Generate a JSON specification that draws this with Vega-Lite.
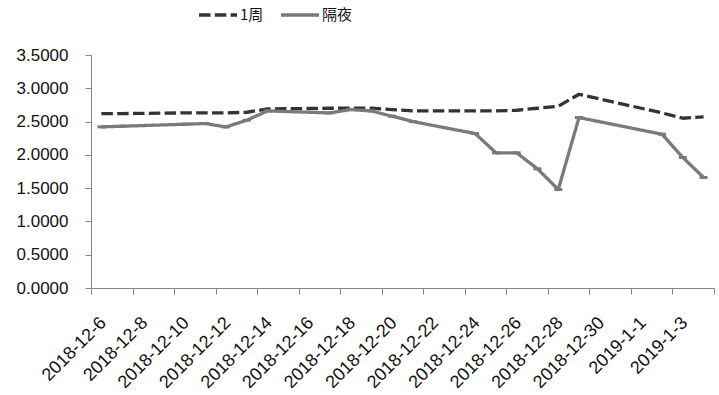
{
  "$schema": "https://vega.github.io/schema/vega-lite/v6.json",
  "width": 623,
  "height": 233,
  "autosize": {"type": "none"},
  "padding": {"left": 91, "top": 55, "right": 5, "bottom": 107},
  "background": "white",
  "config": {"view": {"stroke": null}, "font": "Liberation Sans"},
  "data": {
    "values": [
      {"date": "2018-12-06T12:00:00", "series": "1周", "value": 2.62},
      {"date": "2018-12-07T12:00:00", "series": "1周", "value": 2.62},
      {"date": "2018-12-10T12:00:00", "series": "1周", "value": 2.63},
      {"date": "2018-12-11T12:00:00", "series": "1周", "value": 2.63},
      {"date": "2018-12-12T12:00:00", "series": "1周", "value": 2.63},
      {"date": "2018-12-13T12:00:00", "series": "1周", "value": 2.64},
      {"date": "2018-12-14T12:00:00", "series": "1周", "value": 2.69},
      {"date": "2018-12-17T12:00:00", "series": "1周", "value": 2.70},
      {"date": "2018-12-18T12:00:00", "series": "1周", "value": 2.70},
      {"date": "2018-12-19T12:00:00", "series": "1周", "value": 2.70},
      {"date": "2018-12-20T12:00:00", "series": "1周", "value": 2.68},
      {"date": "2018-12-21T12:00:00", "series": "1周", "value": 2.66},
      {"date": "2018-12-24T12:00:00", "series": "1周", "value": 2.66},
      {"date": "2018-12-25T12:00:00", "series": "1周", "value": 2.66},
      {"date": "2018-12-26T12:00:00", "series": "1周", "value": 2.67},
      {"date": "2018-12-27T12:00:00", "series": "1周", "value": 2.70},
      {"date": "2018-12-28T12:00:00", "series": "1周", "value": 2.73},
      {"date": "2018-12-29T12:00:00", "series": "1周", "value": 2.91},
      {"date": "2019-01-02T12:00:00", "series": "1周", "value": 2.63},
      {"date": "2019-01-03T12:00:00", "series": "1周", "value": 2.55},
      {"date": "2019-01-04T12:00:00", "series": "1周", "value": 2.57},
      {"date": "2018-12-06T12:00:00", "series": "隔夜", "value": 2.42},
      {"date": "2018-12-07T12:00:00", "series": "隔夜", "value": 2.43},
      {"date": "2018-12-10T12:00:00", "series": "隔夜", "value": 2.46},
      {"date": "2018-12-11T12:00:00", "series": "隔夜", "value": 2.47},
      {"date": "2018-12-12T12:00:00", "series": "隔夜", "value": 2.42},
      {"date": "2018-12-13T12:00:00", "series": "隔夜", "value": 2.52},
      {"date": "2018-12-14T12:00:00", "series": "隔夜", "value": 2.66},
      {"date": "2018-12-17T12:00:00", "series": "隔夜", "value": 2.63},
      {"date": "2018-12-18T12:00:00", "series": "隔夜", "value": 2.68},
      {"date": "2018-12-19T12:00:00", "series": "隔夜", "value": 2.66},
      {"date": "2018-12-20T12:00:00", "series": "隔夜", "value": 2.58},
      {"date": "2018-12-21T12:00:00", "series": "隔夜", "value": 2.50},
      {"date": "2018-12-24T12:00:00", "series": "隔夜", "value": 2.32},
      {"date": "2018-12-25T12:00:00", "series": "隔夜", "value": 2.03},
      {"date": "2018-12-26T12:00:00", "series": "隔夜", "value": 2.03},
      {"date": "2018-12-27T12:00:00", "series": "隔夜", "value": 1.79},
      {"date": "2018-12-28T12:00:00", "series": "隔夜", "value": 1.48},
      {"date": "2018-12-29T12:00:00", "series": "隔夜", "value": 2.56},
      {"date": "2019-01-02T12:00:00", "series": "隔夜", "value": 2.31},
      {"date": "2019-01-03T12:00:00", "series": "隔夜", "value": 1.96},
      {"date": "2019-01-04T12:00:00", "series": "隔夜", "value": 1.66}
    ]
  },
  "encoding": {
    "x": {
      "field": "date",
      "type": "temporal",
      "scale": {"domain": [{"year": 2018, "month": 12, "date": 6}, {"year": 2019, "month": 1, "date": 5}]},
      "axis": {
        "title": null,
        "grid": false,
        "values": [
          {"year": 2018, "month": 12, "date": 6}, {"year": 2018, "month": 12, "date": 8},
          {"year": 2018, "month": 12, "date": 10}, {"year": 2018, "month": 12, "date": 12},
          {"year": 2018, "month": 12, "date": 14}, {"year": 2018, "month": 12, "date": 16},
          {"year": 2018, "month": 12, "date": 18}, {"year": 2018, "month": 12, "date": 20},
          {"year": 2018, "month": 12, "date": 22}, {"year": 2018, "month": 12, "date": 24},
          {"year": 2018, "month": 12, "date": 26}, {"year": 2018, "month": 12, "date": 28},
          {"year": 2018, "month": 12, "date": 30}, {"year": 2019, "month": 1, "date": 1},
          {"year": 2019, "month": 1, "date": 3}, {"year": 2019, "month": 1, "date": 5}
        ],
        "labelExpr": "datum.value >= datetime(2019, 0, 4) ? '' : timeFormat(datum.value, '%Y-%-m-%-d')",
        "labelAngle": -45,
        "labelAlign": "right",
        "labelBaseline": "middle",
        "labelOffset": 12,
        "labelPadding": 26,
        "labelOverlap": false,
        "labelFlush": false,
        "labelBound": false,
        "labelFontSize": 18,
        "labelColor": "#111111",
        "tickSize": 6,
        "tickColor": "#868686",
        "domainColor": "#868686"
      }
    },
    "y": {
      "field": "value",
      "type": "quantitative",
      "scale": {"domain": [0, 3.5]},
      "axis": {
        "title": null,
        "grid": false,
        "values": [0, 0.5, 1, 1.5, 2, 2.5, 3, 3.5],
        "format": ".4f",
        "labelFontSize": 17,
        "labelColor": "#111111",
        "labelPadding": 17,
        "tickSize": 6,
        "tickColor": "#868686",
        "domainColor": "#868686"
      }
    }
  },
  "layer": [
    {
      "mark": {"type": "line", "strokeWidth": 3.3, "strokeJoin": "round", "strokeCap": "butt"},
      "encoding": {
        "color": {
          "field": "series",
          "type": "nominal",
          "scale": {"domain": ["1周", "隔夜"], "range": ["#333333", "#7a7a7a"]},
          "legend": {
            "title": null,
            "orient": "none",
            "legendX": 106,
            "legendY": -61,
            "direction": "horizontal",
            "symbolType": "stroke",
            "symbolSize": 1444,
            "symbolStrokeWidth": 3.3,
            "labelFont": "Noto Sans CJK SC",
            "labelFontSize": 15,
            "labelColor": "#111111",
            "labelOffset": 1,
            "columnPadding": 10,
            "encode": {
              "symbols": {
                "update": {
                  "strokeDash": {"signal": "datum.value === '1周' ? [5, 2.6] : [1, 0]"}
                }
              }
            }
          }
        },
        "strokeDash": {
          "field": "series",
          "type": "nominal",
          "scale": {"domain": ["1周", "隔夜"], "range": [[11.5, 4.3], [1, 0]]},
          "legend": null
        }
      }
    },
    {
      "transform": [{"filter": "datum.series === '隔夜'"}],
      "mark": {"type": "point", "shape": "M-1,0L1,0", "size": 64, "strokeWidth": 3, "filled": false, "stroke": "#7a7a7a", "opacity": 1}
    }
  ]
}
